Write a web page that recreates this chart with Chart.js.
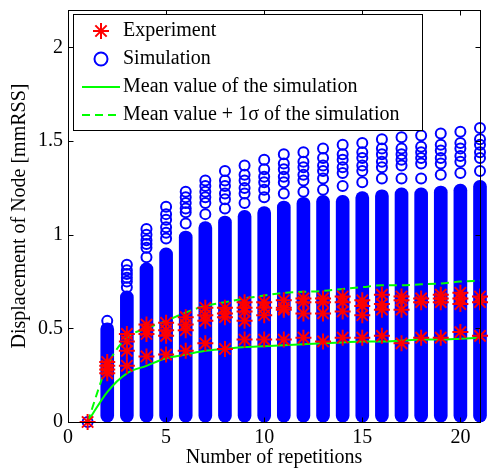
<!DOCTYPE html>
<html>
<head>
<meta charset="utf-8">
<script src="https://cdn.jsdelivr.net/npm/chart.js@4.4.0/dist/chart.umd.min.js"></script>
<style>
  html, body { margin: 0; padding: 0; background: #fff; }
  #wrap { width: 490px; height: 474px; }
</style>
</head>
<body>
<div id="wrap"><canvas id="myGraph" width="490" height="474"></canvas></div>
<script>
/* DATA */
const repetitions = [1, 2, 3, 4, 5, 6, 7, 8, 9, 10, 11, 12, 13, 14, 15, 16, 17, 18, 19, 20, 21];

const meanValues = [0, 0.16, 0.26, 0.30, 0.34, 0.36, 0.38, 0.39, 0.40, 0.405, 0.41,
  0.415, 0.42, 0.425, 0.43, 0.43, 0.435, 0.44, 0.44, 0.445, 0.45];

const meanPlusSigma = [0, 0.30, 0.45, 0.50, 0.54, 0.585, 0.62, 0.64, 0.66, 0.675, 0.69,
  0.695, 0.70, 0.71, 0.72, 0.73, 0.73, 0.735, 0.74, 0.75, 0.755];

const experimentValues = [
  [0],
  [0.32, 0.30, 0.28, 0.26],
  [0.47, 0.43, 0.38, 0.30],
  [0.52, 0.49, 0.47, 0.35],
  [0.53, 0.49, 0.46, 0.36],
  [0.56, 0.52, 0.49, 0.38],
  [0.61, 0.57, 0.54, 0.42],
  [0.61, 0.58, 0.56, 0.39],
  [0.64, 0.61, 0.59, 0.54, 0.44],
  [0.64, 0.61, 0.57, 0.44],
  [0.65, 0.61, 0.60, 0.44],
  [0.66, 0.64, 0.58, 0.45],
  [0.66, 0.64, 0.58, 0.43],
  [0.67, 0.64, 0.59, 0.45],
  [0.65, 0.62, 0.57, 0.45],
  [0.68, 0.63, 0.60, 0.46],
  [0.67, 0.65, 0.60, 0.42],
  [0.66, 0.64, 0.45],
  [0.68, 0.66, 0.64, 0.45],
  [0.69, 0.66, 0.63, 0.48],
  [0.67, 0.64, 0.46]
];

/* top of the solid band of simulation circles (band starts at 0) */
const simDenseTop = [null, 0.53, 0.70, 0.85, 0.93, 1.02, 1.07, 1.10, 1.13, 1.15, 1.18,
  1.20, 1.21, 1.21, 1.23, 1.24, 1.25, 1.25, 1.26, 1.27, 1.29];

/* single simulation circles above the solid band */
const simSparseValues = [
  [0],
  [0.54],
  [0.84, 0.81, 0.79, 0.77, 0.75, 0.72],
  [1.03, 1.00, 0.97, 0.95, 0.93, 0.88],
  [1.15, 1.11, 1.08, 1.04, 1.01, 0.98],
  [1.23, 1.20, 1.17, 1.14, 1.12, 1.06],
  [1.29, 1.26, 1.23, 1.20, 1.17, 1.11],
  [1.34, 1.29, 1.26, 1.22, 1.19, 1.14],
  [1.37, 1.32, 1.29, 1.25, 1.22, 1.17],
  [1.40, 1.35, 1.31, 1.28, 1.24, 1.20],
  [1.43, 1.38, 1.35, 1.31, 1.28, 1.22],
  [1.44, 1.39, 1.36, 1.32, 1.29, 1.23],
  [1.46, 1.41, 1.37, 1.34, 1.30, 1.24],
  [1.48, 1.43, 1.40, 1.36, 1.33, 1.26],
  [1.49, 1.44, 1.41, 1.37, 1.34, 1.28],
  [1.51, 1.46, 1.43, 1.39, 1.36, 1.30],
  [1.52, 1.46, 1.43, 1.40, 1.37, 1.30],
  [1.53, 1.47, 1.44, 1.41, 1.38, 1.30],
  [1.54, 1.48, 1.45, 1.41, 1.38, 1.32],
  [1.55, 1.49, 1.46, 1.42, 1.39, 1.33],
  [1.57, 1.51, 1.48, 1.44, 1.41, 1.34]
];

const xTicks = [0, 5, 10, 15, 20];
const yTicks = [0, 0.5, 1, 1.5, 2];

const legendLabels = ["Experiment", "Simulation", "Mean value of the simulation",
  "Mean value + 1\u03c3 of the simulation"];

/* BUILD DATASETS */
const fontFamily = "'Liberation Serif', 'Times New Roman', serif";
const blue = "#0000ff";
const red = "#ff0000";
const green = "#00ff00";

const expPoints = [];
experimentValues.forEach((vals, i) => vals.forEach(v => expPoints.push({ x: repetitions[i], y: v })));

const simPoints = [];
simSparseValues.forEach((vals, i) => vals.forEach(v => simPoints.push({ x: repetitions[i], y: v })));

const bandData = [];
simDenseTop.forEach((top, i) => { if (top !== null) bandData.push({ x: repetitions[i], y: [0, top] }); });

const meanData = repetitions.map((x, i) => ({ x: x, y: meanValues[i] }));
const sigmaData = repetitions.map((x, i) => ({ x: x, y: meanPlusSigma[i] }));

/* PLUGIN: MATLAB STYLE BOX, INNER TICKS AND LEGEND */
const matlabPlugin = {
  id: "matlabBox",
  afterDatasetsDraw(chart) {
    const { ctx, chartArea: a, scales } = chart;
    const l = Math.round(a.left) + 0.5, r = Math.round(a.right) + 0.5;
    const t = Math.round(a.top) + 0.5, b = Math.round(a.bottom) + 0.5;
    ctx.save();
    ctx.strokeStyle = "#000";
    ctx.lineWidth = 1;
    ctx.strokeRect(l, t, r - l, b - t);
    ctx.beginPath();
    xTicks.forEach(v => {
      const px = Math.round(scales.x.getPixelForValue(v)) + 0.5;
      ctx.moveTo(px, b); ctx.lineTo(px, b - 5);
      ctx.moveTo(px, t); ctx.lineTo(px, t + 5);
    });
    yTicks.forEach(v => {
      const py = Math.round(scales.y.getPixelForValue(v)) + 0.5;
      ctx.moveTo(l, py); ctx.lineTo(l + 5, py);
      ctx.moveTo(r, py); ctx.lineTo(r - 5, py);
    });
    ctx.stroke();
    ctx.restore();
  },
  afterDraw(chart) {
    const ctx = chart.ctx;
    const bx = 73.5, by = 14.5, bw = 349, bh = 116;
    ctx.save();
    ctx.fillStyle = "#fff";
    ctx.fillRect(bx, by, bw, bh);
    ctx.strokeStyle = "#000";
    ctx.lineWidth = 1;
    ctx.strokeRect(bx, by, bw, bh);

    const rows = [31, 59, 87, 115];
    const mx = 101;
    ctx.strokeStyle = red;
    ctx.lineWidth = 2;
    Chart.helpers.drawPoint(ctx, { pointStyle: "star", radius: 8, borderWidth: 2 }, mx, rows[0]);
    ctx.strokeStyle = blue;
    ctx.beginPath();
    ctx.arc(mx, rows[1], 6.5, 0, Math.PI * 2);
    ctx.stroke();
    ctx.strokeStyle = green;
    ctx.beginPath();
    ctx.moveTo(82, rows[2]); ctx.lineTo(120, rows[2]);
    ctx.stroke();
    ctx.setLineDash([8, 5]);
    ctx.beginPath();
    ctx.moveTo(82, rows[3]); ctx.lineTo(120, rows[3]);
    ctx.stroke();
    ctx.setLineDash([]);

    ctx.fillStyle = "#000";
    ctx.font = "20px " + fontFamily;
    ctx.textBaseline = "middle";
    ctx.textAlign = "left";
    legendLabels.forEach((txt, i) => ctx.fillText(txt, 123, rows[i]));
    ctx.restore();
  }
};

/* CHART */
const config = {
  type: "scatter",
  data: {
    datasets: [
      {
        type: "scatter", label: legendLabels[0], data: expPoints,
        pointStyle: "star", radius: 8, borderWidth: 2,
        borderColor: red, backgroundColor: red, order: 0, clip: false
      },
      {
        type: "line", label: legendLabels[3], data: sigmaData,
        borderColor: green, borderWidth: 2, borderDash: [8, 5], pointRadius: 0,
        fill: false, cubicInterpolationMode: "monotone", order: 1
      },
      {
        type: "line", label: legendLabels[2], data: meanData,
        borderColor: green, borderWidth: 2, pointRadius: 0,
        fill: false, cubicInterpolationMode: "monotone", order: 1
      },
      {
        type: "scatter", label: legendLabels[1], data: simPoints,
        pointStyle: "circle", radius: 5, borderWidth: 2,
        borderColor: blue, backgroundColor: "rgba(0,0,0,0)", order: 2, clip: false
      },
      {
        type: "bar", label: "band", data: bandData,
        backgroundColor: blue, borderWidth: 0, barThickness: 13,
        borderRadius: 6.5, borderSkipped: false, order: 3, clip: false
      }
    ]
  },
  options: {
    responsive: false,
    animation: false,
    layout: { padding: { left: 0, right: 6, top: 7, bottom: 0 } },
    plugins: {
      legend: { display: false },
      tooltip: { enabled: false }
    },
    scales: {
      x: {
        type: "linear", min: 0, max: 21, offset: false,
        grid: { display: false, offset: false, drawTicks: false },
        border: { display: false },
        afterBuildTicks: s => { s.ticks = xTicks.map(v => ({ value: v })); },
        afterFit: s => { s.height = 52; s.paddingLeft = 0; s.paddingRight = 0; },
        ticks: { color: "#000", padding: 4, maxRotation: 0, font: { family: fontFamily, size: 20 },
          callback: v => String(v) },
        title: { display: true, text: "Number of repetitions", color: "#000",
          padding: { top: 0, bottom: 4 }, font: { family: fontFamily, size: 20 } }
      },
      y: {
        type: "linear", min: 0, max: 2.2,
        grid: { display: false, drawTicks: false },
        border: { display: false },
        afterBuildTicks: s => { s.ticks = yTicks.map(v => ({ value: v })); },
        afterFit: s => { s.width = 68; s.paddingTop = 0; s.paddingBottom = 0; },
        ticks: { color: "#000", padding: 5, font: { family: fontFamily, size: 20 },
          callback: v => String(v) },
        title: { display: true, text: "Displacement of Node [mmRSS]", color: "#000",
          padding: { top: 8, bottom: 0 }, font: { family: fontFamily, size: 20 } }
      }
    }
  },
  plugins: [matlabPlugin]
};

const chart = new Chart(document.getElementById("myGraph"), config);
</script>
</body>
</html>
